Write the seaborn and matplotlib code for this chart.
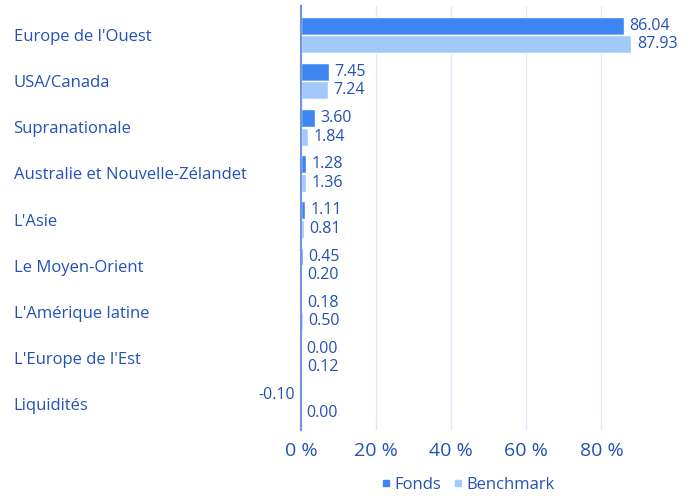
import pandas as pd
import matplotlib
matplotlib.use("Agg")
import matplotlib.pyplot as plt
import seaborn as sns
from matplotlib.lines import Line2D

# --- données ---
regions = [
    "Europe de l'Ouest",
    "USA/Canada",
    "Supranationale",
    "Australie et Nouvelle-Zélandet",
    "L'Asie",
    "Le Moyen-Orient",
    "L'Amérique latine",
    "L'Europe de l'Est",
    "Liquidités",
]
fonds = [86.04, 7.45, 3.60, 1.28, 1.11, 0.45, 0.18, 0.00, -0.10]
benchmark = [87.93, 7.24, 1.84, 1.36, 0.81, 0.20, 0.50, 0.12, 0.00]
series = ["Fonds", "Benchmark"]
x_ticks = [0, 20, 40, 60, 80]

COL_FONDS = "#3d86f2"
COL_BENCH = "#a3c9fb"
TXT = "#2351b8"

df = pd.DataFrame({
    "region": regions * 2,
    "serie": [series[0]] * len(regions) + [series[1]] * len(regions),
    "valeur": fonds + benchmark,
})

sns.set_theme(style="white")
plt.rcParams["font.family"] = ["Open Sans", "DejaVu Sans"]

fig = plt.figure(figsize=(6.91, 4.96), dpi=100)
ax = fig.add_axes([301 / 691, 1 - 430 / 496, 385 / 691, 424 / 496])

sns.barplot(data=df, y="region", x="valeur", hue="serie", hue_order=series,
            order=regions, palette=[COL_FONDS, COL_BENCH], orient="h",
            width=0.8, gap=0.03, saturation=1, legend=False, ax=ax)

ax.set_xlim(0, 102.5)
ax.set_ylim(8.56, -0.63)
ax.set_xticks(x_ticks)
ax.set_xticklabels([f"{t} %" for t in x_ticks], fontsize=14, color=TXT)
ax.xaxis.grid(True, color="#dde8f8", linewidth=1)
ax.set_axisbelow(True)
ax.set_xlabel("")
ax.set_ylabel("")
for side in ["top", "right", "bottom"]:
    ax.spines[side].set_visible(False)
ax.spines["left"].set_color("#6f97e0")
ax.spines["left"].set_linewidth(1.5)
ax.tick_params(axis="x", length=0, pad=9)
ax.tick_params(axis="y", length=0, pad=207)
for lab in ax.get_yticklabels():
    lab.set_horizontalalignment("left")
    lab.set_fontsize(12)
    lab.set_color(TXT)

# étiquettes de valeurs
for cont in ax.containers:
    for bar in cont:
        w = bar.get_width()
        yc = bar.get_y() + bar.get_height() / 2
        if w < 0:
            ax.annotate(f"{w:.2f}", xy=(0, yc), xytext=(-4, 0),
                        textcoords="offset points", ha="right", va="center",
                        fontsize=11.5, color=TXT, annotation_clip=False)
        else:
            ax.annotate(f"{w:.2f}", xy=(w, yc), xytext=(4, 0),
                        textcoords="offset points", ha="left", va="center",
                        fontsize=11.5, color=TXT, annotation_clip=False)

handles = [Line2D([], [], marker="s", linestyle="", markersize=4,
                  color=c) for c in (COL_FONDS, COL_BENCH)]
fig.legend(handles, series, loc="center", bbox_to_anchor=(467 / 691, 1 - 485 / 496),
           ncol=2, frameon=False, fontsize=12, handletextpad=0.1,
           columnspacing=0.6, handlelength=0.8, labelcolor=TXT)

fig.savefig("out.png", dpi=100)
